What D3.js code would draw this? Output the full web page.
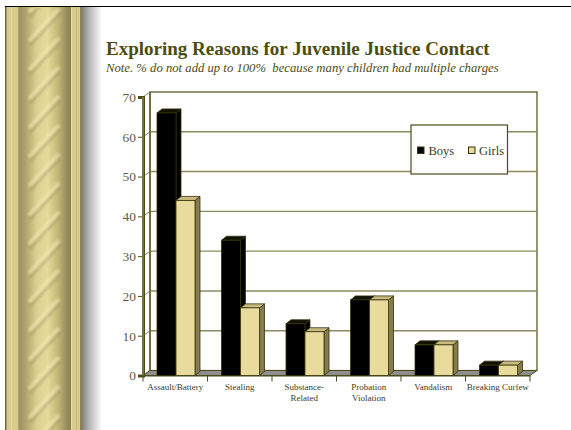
<!DOCTYPE html>
<html><head><meta charset="utf-8">
<script src="https://cdn.jsdelivr.net/npm/d3@7"></script>
<style>body{margin:0;background:#fff}svg{display:block}text{font-family:"Liberation Serif","Times New Roman",serif}</style>
</head><body><svg id="c" width="571" height="430"></svg>
<script>
// ---- data ----
const categories = ["Assault/Battery","Stealing","Substance-Related","Probation Violation","Vandalism","Breaking Curfew"];
const categoryLabels = [["Assault/Battery"],["Stealing"],["Substance-","Related"],["Probation","Violation"],["Vandalism"],["Breaking Curfew"]];
const seriesNames = ["Boys","Girls"];
const boys  = [66, 34, 13, 19, 7.7, 2.6];
const girls = [44, 17, 11, 19, 7.7, 2.6];
const yTicks = [0,10,20,30,40,50,60,70];
const titleText = "Exploring Reasons for Juvenile Justice Contact";
const subtitleText = "Note. % do not add up to 100%  because many children had multiple charges";

// ---- layout ----
const svg = d3.select("#c");
const W = 571, H = 430;
const DX = 7, DY = -5;     // wall depth
const BX = 5, BY = -4;     // bar depth
const x0 = 143, x1 = 530, yBase = 375.5, yTop = 97;

const defs = svg.append("defs");

// ---- decorative column ----
const colGrad = defs.append("linearGradient").attr("id","colG").attr("x1","0").attr("x2","1").attr("y1","0").attr("y2","0");
[[0,"#9c925f"],[0.12,"#aea36a"],[0.35,"#ddd192"],[0.55,"#e6da9a"],[0.75,"#c3b777"],[0.92,"#978d5c"],[1,"#8a8153"]]
  .forEach(([o,c])=>colGrad.append("stop").attr("offset",o).attr("stop-color",c));
const shGrad = defs.append("linearGradient").attr("id","shG").attr("x1","0").attr("x2","1");
[[0,"#7f7f7f"],[0.35,"#b5b5b5"],[1,"#ffffff"]].forEach(([o,c])=>shGrad.append("stop").attr("offset",o).attr("stop-color",c));
defs.append("clipPath").attr("id","colClip").append("rect").attr("x",22).attr("y",8).attr("width",46).attr("height",H);
defs.append("filter").attr("id","blur").attr("x","-20%").attr("y","-20%").attr("width","140%").attr("height","140%")
  .append("feGaussianBlur").attr("stdDeviation",1.3);

const deco = svg.append("g");
deco.append("rect").attr("x",82).attr("y",7).attr("width",20).attr("height",H).attr("fill","url(#shG)");
deco.append("rect").attr("x",5).attr("y",7).attr("width",77).attr("height",H).attr("fill","#d8cc8c");
deco.append("rect").attr("x",5).attr("y",7).attr("width",1.5).attr("height",H).attr("fill","#6e6640");
deco.append("rect").attr("x",11).attr("y",7).attr("width",1).attr("height",H).attr("fill","#e9dea3");
deco.append("rect").attr("x",18).attr("y",7).attr("width",1).attr("height",H).attr("fill","#b3a86c");
deco.append("rect").attr("x",19).attr("y",7).attr("width",52).attr("height",H).attr("fill","url(#colG)");
deco.append("rect").attr("x",71).attr("y",7).attr("width",1).attr("height",H).attr("fill","#eadfa3");
deco.append("rect").attr("x",76).attr("y",7).attr("width",1).attr("height",H).attr("fill","#c2b679");
deco.append("rect").attr("x",80).attr("y",7).attr("width",2).attr("height",H).attr("fill","#8a8255");
const stripes = deco.append("g").attr("clip-path","url(#colClip)").append("g").attr("filter","url(#blur)");
for (let s = -10; s < H + 40; s += 29) {
  stripes.append("line").attr("x1",30).attr("y1",s+26).attr("x2",60).attr("y2",s-6)
    .attr("stroke","#857b50").attr("stroke-width",3.5).attr("opacity",0.3);
  stripes.append("line").attr("x1",29).attr("y1",s+22).attr("x2",59).attr("y2",s-10)
    .attr("stroke","#f3eab4").attr("stroke-width",4).attr("opacity",0.6);
}
svg.append("line").attr("x1",5).attr("x2",W).attr("y1",6.5).attr("y2",6.5).attr("stroke","#000").attr("stroke-width",1);

// ---- titles ----
const titleColor = "#4d4d10";
const t = svg.append("text").attr("x",106).attr("y",55).attr("fill",titleColor)
  .attr("font-weight","bold").attr("font-size",20).text(titleText);
let tl = t.node().getComputedTextLength(); t.attr("font-size", 20*384/tl);
const st = svg.append("text").attr("x",106).attr("y",72).attr("fill",titleColor)
  .attr("font-style","italic").attr("font-size",12).style("white-space","pre").text(subtitleText);
tl = st.node().getComputedTextLength(); st.attr("font-size", 12*393/tl);

// ---- scales ----
const x = d3.scaleBand().domain(categories).range([x0, x1]);
const xs = d3.scaleBand().domain(seriesNames).range([14, 52]);
const y = d3.scaleLinear().domain([0,70]).range([yBase, yTop]);

const olive = "#4d4d1a", grid = "#8c8c62";
const chart = svg.append("g");

// back wall
chart.append("rect").attr("x",x0+DX).attr("y",y(70)+DY).attr("width",x1-x0).attr("height",y(0)-y(70))
  .attr("fill","#fff").attr("stroke",olive).attr("stroke-width",1.2);
// gridlines (back wall + side wall)
const gl = chart.append("g");
gl.selectAll("line.b").data(yTicks.slice(1,-1)).join("line").attr("class","b")
  .attr("x1",x0+DX).attr("x2",x1+DX).attr("y1",d=>y(d)+DY).attr("y2",d=>y(d)+DY)
  .attr("stroke",grid).attr("stroke-width",1.4);
gl.selectAll("line.s").data(yTicks).join("line").attr("class","s")
  .attr("x1",x0).attr("x2",x0+DX).attr("y1",d=>y(d)).attr("y2",d=>y(d)+DY)
  .attr("stroke",grid).attr("stroke-width",1);
// floor
chart.append("path").attr("d",`M${x0},${y(0)}L${x1},${y(0)}L${x1+DX},${y(0)+DY}L${x0+DX},${y(0)+DY}Z`)
  .attr("fill","#8e8e8e").attr("stroke",olive).attr("stroke-width",1);
// side wall back edge
chart.append("line").attr("x1",x0+DX).attr("x2",x0+DX).attr("y1",y(70)+DY).attr("y2",y(0)+DY).attr("stroke",olive).attr("stroke-width",1);

// y axis
const yAxis = chart.append("g").attr("transform",`translate(${x0},0)`)
  .call(d3.axisLeft(y).tickValues(yTicks).tickSize(5).tickPadding(2).tickFormat(d3.format("d")));
yAxis.attr("font-family",null).attr("font-size",null);
yAxis.select(".domain").attr("stroke",olive).attr("stroke-width",3);
yAxis.selectAll(".tick line").attr("stroke",olive).attr("stroke-width",1);
yAxis.selectAll(".tick text").attr("fill","#5f5f3f")
  .style("font-family","'Liberation Serif','Times New Roman',serif").style("font-size","13.5px");
chart.append("line").attr("x1",x0).attr("x2",x0).attr("y1",y(70)).attr("y2",y(0)).attr("stroke","#9a9a6c").attr("stroke-width",1);

// x axis
const xAxis = chart.append("g").attr("transform",`translate(0,${y(0)})`)
  .call(d3.axisBottom(x).tickSize(0).tickPadding(9).tickFormat(""));
xAxis.select(".domain").attr("stroke",olive).attr("stroke-width",1.2);
chart.append("g").selectAll("line").data(categories.map(c=>x(c)).concat([x1])).join("line")
  .attr("x1",d=>d).attr("x2",d=>d).attr("y1",y(0)).attr("y2",y(0)+6).attr("stroke",olive).attr("stroke-width",1);
const labs = chart.append("g").selectAll("text").data(categories).join("text")
  .attr("text-anchor","middle").attr("fill","#3b3b28").attr("font-size",9)
  .attr("transform",d=>`translate(${x(d)+x.bandwidth()/2},${y(0)+14})`);
labs.each(function(d,i){
  d3.select(this).selectAll("tspan").data(categoryLabels[i]).join("tspan")
    .attr("x",0).attr("dy",(l,j)=>j===0?0:11.5).text(l=>l);
});

// bars
const series = [
  {name:"Boys", values:boys, front:"#000000", top:"#111100", side:"#000000"},
  {name:"Girls", values:girls, front:"#e8db9b", top:"#c9bb80", side:"#857b4c"}
];
const barStroke = "#35330c";
const barsG = chart.append("g");
categories.forEach((c,i)=>{
  series.forEach(s=>{
    const v = s.values[i];
    const bx = x(c) + xs(s.name), bw = xs.bandwidth();
    const yt = y(v), yb = y(0);
    const g = barsG.append("g");
    g.append("path").attr("d",`M${bx+bw},${yt}L${bx+bw+BX},${yt+BY}L${bx+bw+BX},${yb+BY}L${bx+bw},${yb}Z`)
      .attr("fill",s.side).attr("stroke",barStroke).attr("stroke-width",0.8);
    g.append("path").attr("d",`M${bx},${yt}L${bx+BX},${yt+BY}L${bx+bw+BX},${yt+BY}L${bx+bw},${yt}Z`)
      .attr("fill",s.top).attr("stroke",barStroke).attr("stroke-width",0.8);
    g.append("rect").attr("x",bx).attr("y",yt).attr("width",bw).attr("height",yb-yt)
      .attr("fill",s.front).attr("stroke",barStroke).attr("stroke-width",0.8);
  });
});

// legend
const lg = svg.append("g");
lg.append("rect").attr("x",411).attr("y",125).attr("width",96.5).attr("height",49)
  .attr("fill","#fff").attr("stroke",olive).attr("stroke-width",1.2);
const lx = [417.5, 468.5], ltx = [428.5, 479];
series.forEach((s,i)=>{
  lg.append("rect").attr("x",lx[i]).attr("y",147).attr("width",6.5).attr("height",6.5)
    .attr("fill",s.front).attr("stroke",barStroke).attr("stroke-width",1);
  lg.append("text").attr("x",ltx[i]).attr("y",154.5).attr("fill","#3b3b20").attr("font-size",12.5).text(seriesNames[i]);
});
</script></body></html>
